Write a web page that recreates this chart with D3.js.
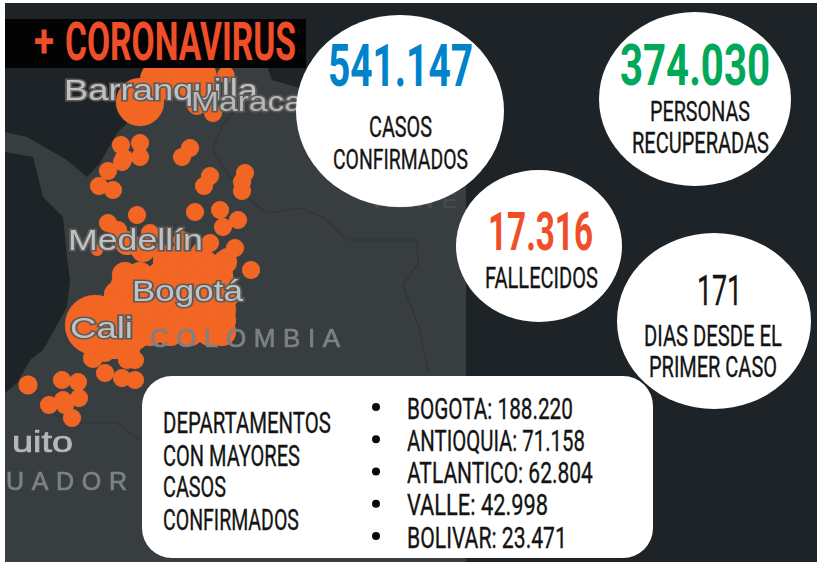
<!DOCTYPE html>
<html><head><meta charset="utf-8">
<script src="https://cdn.jsdelivr.net/npm/d3@7"></script>
<style>html,body{margin:0;padding:0;background:#fff;overflow:hidden}svg{display:block}</style>
</head><body><div id="chart"></div>
<script>
// ---- Data ----
const title = "CORONAVIRUS";
const casosConfirmados = "541.147";
const personasRecuperadas = "374.030";
const fallecidos = "17.316";
const diasDesdePrimerCaso = "171";
const departamentos = ["BOGOTA","ANTIOQUIA","ATLANTICO","VALLE","BOLIVAR"];
const casosDepartamento = ["188.220","71.158","62.804","42.998","23.471"];
const tituloLista = ["DEPARTAMENTOS","CON MAYORES","CASOS","CONFIRMADOS"];
// map bubbles [lon, lat, relative size]
const bubbles = [
[-75.30,10.34,711],[-74.70,11.00,494],[-73.65,11.06,598],[-72.72,11.15,90],[-73.11,10.01,100],[-73.59,10.25,123],
[-75.87,9.05,100],[-75.30,9.11,100],[-75.78,8.66,100],[-75.30,8.69,100],[-75.84,8.54,100],[-76.26,8.27,100],[-76.53,7.82,100],[-76.11,7.70,100],
[-73.80,8.96,100],[-74.04,8.69,100],[-73.20,8.12,100],[-73.38,7.82,100],[-72.15,8.21,100],[-72.24,7.94,100],[-72.24,7.67,100],
[-73.65,7.04,100],[-72.90,7.10,100],[-72.36,6.80,100],[-72.81,6.59,100],[-75.39,6.95,100],[-76.26,6.71,100],[-75.96,6.50,100],[-75.00,6.41,100],
[-74.04,6.20,100],[-73.20,6.11,100],[-72.45,5.96,100],[-72.69,5.69,100],[-71.97,5.30,100],[-76.59,5.90,44],[-75.69,6.11,178],[-75.21,5.90,178],
[-74.70,5.84,100],[-74.10,5.84,100],[-73.50,5.84,100],
[-74.55,5.54,178],[-73.95,5.54,178],[-73.35,5.54,178],[-72.75,5.54,178],
[-75.75,5.15,209],[-75.30,5.15,209],[-74.70,5.15,209],[-74.10,5.15,209],[-73.50,5.15,209],[-72.90,5.15,209],
[-75.75,4.85,242],[-75.15,4.85,242],[-74.55,4.85,242],[-73.95,4.85,242],[-73.35,4.85,242],[-72.84,4.85,242],
[-75.96,4.55,242],[-75.45,4.55,242],[-74.85,4.55,242],[-74.25,4.55,242],[-73.65,4.55,242],[-73.05,4.55,242],[-72.75,4.55,242],
[-76.50,4.10,242],[-75.90,4.10,242],[-75.30,4.10,242],[-74.70,4.10,242],[-74.10,4.10,242],[-73.50,4.10,242],[-72.84,4.10,242],
[-75.75,3.80,242],[-75.15,3.80,242],[-74.55,3.80,242],[-73.95,3.80,242],[-73.35,3.80,242],[-72.84,3.80,242],
[-76.65,3.65,1111],[-75.60,3.50,598],[-75.00,3.44,242],[-74.40,3.44,242],[-73.80,3.44,242],[-73.20,3.44,242],[-72.84,3.44,242],
[-76.05,3.05,242],[-76.71,2.66,123],[-76.35,2.84,123],[-75.60,2.90,123],[-75.45,2.60,100],[-75.69,2.60,100],[-76.35,2.21,100],[-75.84,2.06,100],[-75.45,2.00,100],
[-78.66,1.85,110],[-77.64,2.00,100],[-77.16,1.94,100],[-77.13,1.46,100],[-77.61,1.40,100],[-78.03,1.25,100],[-77.55,1.25,100],[-77.34,0.86,100]
];
const land = [[-79.35,9.44],[-78.69,9.29],[-77.49,8.6],[-76.89,8.09],[-76.5,8.51],[-75.99,9.41],[-75.69,9.71],[-76.05,10.25],[-75,11.36],[-71.55,11.6],[-71.34,11],[-70.5,10.76],[-69,11.6],[-65.52,9.8],[-65.52,-3.46],[-79.35,-3.46],[-79.35,1.61],[-78.99,1.91],[-78.6,2.6],[-78.21,2.9],[-77.49,4.19],[-77.4,5],[-77.49,5.69],[-77.61,6.89],[-78.21,7.49],[-78.51,8.69],[-79.35,8.84]];
const borderVenezuela = [[-72.15,10.4],[-72.84,9.65],[-73.11,8.9],[-72.75,8.3],[-72,7.4],[-71.49,7.01],[-70.5,7.16],[-69.81,6.89],[-69.09,6.2],[-66.99,6.2],[-66.96,5.51],[-67.41,4.85],[-66.9,3.5],[-66.66,2.24]];
const borderEcuador = [[-78.3,1.1],[-77.1,.71],[-75.99,.71],[-75.3,.2]];

// ---- Scales ----
const W = 817, H = 562;
const x = d3.scaleLinear().domain([-79.5,-66]).range([0,450]);
const y = d3.scaleLinear().domain([13.4,5]).range([0,280]);
const r = d3.scaleSqrt().domain([0,100]).range([0,9]);
const line = d3.line().x(d=>x(d[0])).y(d=>y(d[1]));

const SEA="#1d2326", LAND="#373c3f", ORANGE="#f26522", RED="#f04e29", INK="#141414";
const NARROW="'Liberation Sans Narrow','Roboto','Liberation Sans',sans-serif";
const svg = d3.select("#chart").append("svg").attr("width",W).attr("height",H);
const defs = svg.append("defs");
defs.append("filter").attr("id","soft").append("feGaussianBlur").attr("stdDeviation",0.7);
defs.append("filter").attr("id","softer").append("feGaussianBlur").attr("stdDeviation",0.6);
defs.append("clipPath").attr("id","frame").append("rect").attr("x",5).attr("y",3).attr("width",W-5).attr("height",H-3);

const root = svg.append("g").attr("clip-path","url(#frame)");
root.append("rect").attr("x",5).attr("y",3).attr("width",W-5).attr("height",H-3).attr("fill",SEA);

const mapLayer = root.append("g").attr("filter","url(#soft)");
mapLayer.append("path").attr("d",line(land)+"Z").attr("fill",LAND);
mapLayer.selectAll("path.border").data([borderVenezuela,borderEcuador]).join("path").attr("class","border")
  .attr("d",line).attr("fill","none").attr("stroke","#303538").attr("stroke-width",1.2);
mapLayer.selectAll("circle").data(bubbles).join("circle")
  .attr("cx",d=>x(d[0])).attr("cy",d=>y(d[1])).attr("r",d=>r(d[2]))
  .attr("fill",ORANGE).attr("stroke","#f58a56").attr("stroke-opacity",0.3).attr("stroke-width",0.6);

// map place labels
const placeLabels = [
 {t:"VENE",x:370,b:208,w:87,s:22,f:"#474c4f",halo:0,sp:1},
 {t:"Barranquilla",x:64,b:100,w:194,s:30,f:"#bfc2c2",halo:1},
 {t:"Maraca",x:191,b:111,w:112,s:28,f:"#b5b8b8",halo:1},
 {t:"Medellín",x:68,b:250,w:135,s:29,f:"#bfc2c2",halo:1},
 {t:"Bogotá",x:132,b:301,w:111,s:29,f:"#bfc2c2",halo:1},
 {t:"Cali",x:70,b:338,w:63,s:30,f:"#bfc2c2",halo:1},
 {t:"COLOMBIA",x:150,b:347,w:190,s:26,f:"#7c8183",halo:0,sp:1},
 {t:"uito",x:12,b:452,w:61,s:29,f:"#b5b8b8",halo:0},
 {t:"UADOR",x:6,b:490,w:121,s:25,f:"#7c8183",halo:0,sp:1}
];
const lab = root.append("g").attr("filter","url(#softer)");
lab.selectAll("text").data(placeLabels).join("text")
  .attr("x",d=>d.x).attr("y",d=>d.b).attr("textLength",d=>d.w).attr("lengthAdjust",d=>d.sp?"spacing":"spacingAndGlyphs")
  .attr("font-family","'Liberation Sans',Arial,sans-serif").attr("font-size",d=>d.s)
  .attr("fill",d=>d.f).attr("stroke",d=>d.halo?"#5d5a58":d.f).attr("stroke-width",d=>d.halo?3.2:0.7).attr("paint-order","stroke")
  .text(d=>d.t);

// condensed text helper: x, right edge, baseline, cap height — measured, then fitted by horizontal scale
function txt(g,t,x0,x1,b,cap,fill,weight){
  const el = g.append("text").attr("font-family",NARROW).attr("font-size",cap/0.70).attr("font-weight",weight||"normal")
   .attr("fill",fill).attr("stroke",weight?"none":fill).attr("stroke-width",weight?0:0.35).text(t);
  const sx = (x1-x0)/el.node().getComputedTextLength();
  el.attr("transform",`translate(${x0},${b}) scale(${sx},1)`);
}

// title band
const band = root.append("g");
band.append("rect").attr("x",5).attr("y",19).attr("width",301).attr("height",49).attr("fill","#030303");
txt(band,"+",34,54,57,32,RED,"bold");
txt(band,title,65,296,60,37,RED,"bold");

// KPI circles
const kpi = root.append("g");
const ell = (cx,cy,rx,ry)=>kpi.append("ellipse").attr("cx",cx).attr("cy",cy).attr("rx",rx).attr("ry",ry).attr("fill","#fff");
ell(400,111,104,96); ell(695,99,96,87); ell(539,246,83,76); ell(714,321,97,88);
txt(kpi,casosConfirmados,328,473,86,41,"#0083ca","bold");
txt(kpi,"CASOS",369,432,137,20,INK);
txt(kpi,"CONFIRMADOS",333,468,169,20,INK);
txt(kpi,personasRecuperadas,620,770,85,40,"#00a859","bold");
txt(kpi,"PERSONAS",650,750,121,20,INK);
txt(kpi,"RECUPERADAS",632,769,153,20,INK);
txt(kpi,fallecidos,488,593,250,38,RED,"bold");
txt(kpi,"FALLECIDOS",485,598,288,21,INK);
txt(kpi,diasDesdePrimerCaso,697,742,305,30,INK);
txt(kpi,"DIAS DESDE EL",644,782,346,21,INK);
txt(kpi,"PRIMER CASO",649,777,377,20,INK);

// departments box
const box = root.append("g");
box.append("rect").attr("x",142).attr("y",376).attr("width",511).attr("height",182).attr("rx",30).attr("fill","#fff");
const listLeft = [[163,331,433],[163,300,466],[163,226,497],[163,299,530]];
tituloLista.forEach((t,i)=>txt(box,t,listLeft[i][0],listLeft[i][1],listLeft[i][2],21,INK));
const rowRight=[573,585,593,548,567], rowBase=[419,451,483,515,548], rowY=d3.scalePoint().domain(departamentos).range([407,536]);
departamentos.forEach((d,i)=>{
  box.append("circle").attr("cx",376).attr("cy",rowY(d)).attr("r",4).attr("fill","#0a0a0a");
  txt(box,d+": "+casosDepartamento[i],407,rowRight[i],rowBase[i],21,INK);
});
</script></body></html>
